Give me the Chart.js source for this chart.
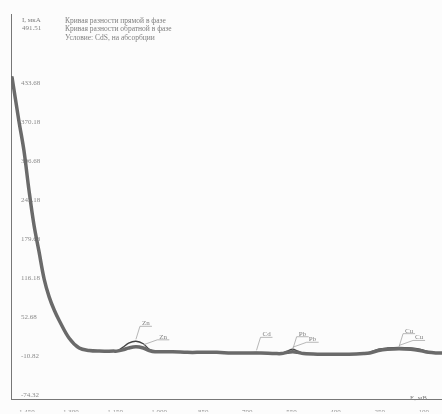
<!DOCTYPE html>
<html>
<head>
<meta charset="utf-8">
<script src="https://cdn.jsdelivr.net/npm/chart.js@4"></script>
<style>
body{margin:0;background:#fcfcfc}
#wrap{width:442px;height:414px;position:relative}
</style>
</head>
<body>
<div id="wrap"><canvas id="chart"></canvas></div>
<script>
// потенциал, мВ
const potential=[-1497,-1473,-1456,-1439,-1422,-1405,-1387,-1370,-1353,-1336,-1302,-1268,-1234,-1200,-1150,-1140,-1120,-1100,-1075,-1050,-1030,-1010,-950,-900,-850,-800,-750,-700,-665,-650,-600,-580,-560,-542,-525,-505,-450,-400,-350,-300,-280,-250,-220,-180,-140,-110,-80,-50,-34]
// ток, мкА - прямая
const forward=[445,372,324,260,203,160,114,85,64,47,18,2,-2,-3,-3,-3,3,10,13,9,0,-4,-4,-5,-5,-5,-6,-6,-5,-6,-7,-7,-3,0,-3,-7,-8,-8,-8,-7,-5,0,2,3,2,0,-4,-6,-6]
// ток, мкА - обратная
const reverse=[445,372,324,260,203,160,114,85,64,47,18,2,-2,-3,-3,-3,-1,2,4,2,-2,-4,-4,-5,-5,-5,-6,-6,-6,-6,-7,-7,-5,-4,-5,-7,-8,-8,-8,-7,-6,-2,0,1,0,-2,-5,-6,-6]

const xTicks=[-1450,-1300,-1150,-1000,-850,-700,-550,-400,-250,-100]
const yTicks=[-74.32,-10.82,52.68,116.18,179.68,243.18,306.68,370.18,433.68]

const legendLines=['Кривая разности прямой в фазе','Кривая разности обратной в фазе','Условие: CdS, на абсорбции']
const peakNames=['Zn','Zn','Cd','Pb','Pb','Cu','Cu']
const peakAt=[-1075,-1050,-665,-542,-542,-180,-180]
const peakVal=[13,4,-5,0,-4,3,1]

const grey='#777'
const fnt='"Liberation Serif"'

const textPlugin={
  id:'texts',
  afterDatasetsDraw(chart){
    const c=chart.ctx, xs=chart.scales.x, ys=chart.scales.y
    c.save()
    c.fillStyle='#808080'
    c.font='7px '+fnt
    c.textBaseline='middle'
    c.fillText('I, мкА',22,20)
    c.fillText('491.51',22,28)
    c.font='7.5px '+fnt
    legendLines.forEach((t,i)=>c.fillText(t,65,21+i*8.5))
    c.font='7px '+fnt
    c.fillText('E, мВ',410,398)
    // подписи пиков
    c.strokeStyle='#999'
    c.lineWidth=0.7
    peakNames.forEach((n,i)=>{
      const px=xs.getPixelForValue(peakAt[i]), py=ys.getPixelForValue(peakVal[i])
      const dy=i%2==0?-18:-10
      const tx=px+(i%2==0?6:16), ty=py+dy
      c.beginPath()
      c.moveTo(px,py-2)
      c.lineTo(tx-2,ty+3)
      c.lineTo(tx+10,ty+3)
      c.stroke()
      c.fillText(n,tx,ty)
    })
    c.restore()
  }
}

const chart=new Chart(document.querySelector('#chart'),{
  type:'line',
  data:{
    labels:potential,
    datasets:[
      {label:legendLines[1],data:potential.map((x,i)=>({x:x,y:reverse[i]})),borderColor:'#6a6a6a',borderWidth:3.5,pointRadius:0,tension:0.35},
      {label:legendLines[0],data:potential.map((x,i)=>({x:x,y:forward[i]})),borderColor:'#444',borderWidth:1.4,pointRadius:0,tension:0.35}
    ]
  },
  options:{
    responsive:true,
    maintainAspectRatio:false,
    animation:false,
    layout:{padding:{top:12,right:0,left:0,bottom:0}},
    plugins:{legend:{display:false},tooltip:{enabled:false}},
    scales:{
      x:{
        type:'linear',min:-1500,max:-34,
        afterBuildTicks:s=>{s.ticks=xTicks.map(v=>({value:v}))},
        afterFit:s=>{s.height=12},
        grid:{display:false},
        border:{display:true,color:grey},
        ticks:{color:'#8a8a8a',font:{size:7,family:fnt},padding:0,maxRotation:0,autoSkip:false}
      },
      y:{
        type:'linear',min:-82.4,max:546.5,
        afterBuildTicks:s=>{s.ticks=yTicks.map(v=>({value:v}))},
        afterFit:s=>{s.width=11},
        grid:{display:false},
        border:{display:true,color:grey},
        ticks:{mirror:true,color:'#8a8a8a',font:{size:7,family:fnt},padding:10,callback:v=>Number(v).toFixed(2)}
      }
    }
  },
  plugins:[textPlugin]
})
</script>
</body>
</html>
